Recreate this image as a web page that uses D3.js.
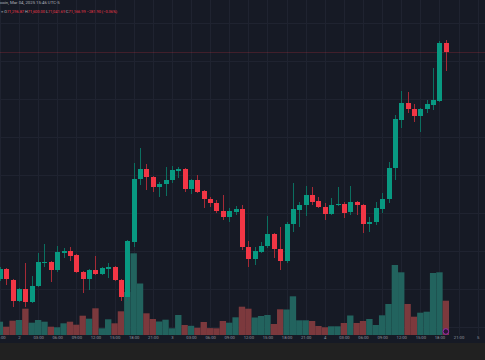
<!DOCTYPE html>
<html>
<head>
<meta charset="utf-8">
<script src="https://cdn.jsdelivr.net/npm/d3@7"></script>
<style>
  html, body { margin: 0; padding: 0; background: #212121; }
  svg { display: block; font-family: Roboto, "Noto Sans", sans-serif; }
</style>
</head>
<body>
<div id="chart"></div>
<script>
// Hourly candles, first one is Mar 1 21:00 (UTC)
const firstCandle = Date.UTC(2025, 2, 1, 21)

const opens = [
  67815, 67965, 67800, 67485, 67665, 67470, 67710, 68055, 68070, 67950,
  68205, 68235, 68175, 67920, 67815, 67950, 67890, 67965, 67995, 67800,
  67545, 68370, 69315, 69465, 69345, 69195, 69240, 69300, 69435, 69465,
  69165, 69300, 69135, 69015, 68955, 68835, 68745, 68820, 68865, 68295,
  68115, 68220, 68310, 68490, 68265, 68085, 68640, 68850, 68925, 69075,
  68985, 68895, 68790, 68925, 68940, 68820, 68970, 68925, 68640, 68670,
  68865, 69015, 69480, 70200, 70455, 70365, 70260, 70365, 70425, 70485,
  71355
]
const highs = [
  67995, 67980, 67815, 67680, 68055, 67860, 68205, 68340, 68085, 68310,
  68280, 68295, 68190, 67935, 67965, 68160, 67995, 68055, 68010, 67815,
  68400, 69555, 69780, 69540, 69360, 69270, 69495, 69510, 69495, 69480,
  69315, 69375, 69150, 69045, 69000, 69075, 68880, 68910, 68925, 68385,
  68295, 68370, 68760, 68505, 68595, 68670, 69255, 68970, 69210, 69195,
  69045, 68955, 69030, 69195, 68970, 69210, 68985, 68940, 68745, 68970,
  69105, 69570, 70275, 70635, 70620, 70440, 70380, 70500, 70980, 71385,
  71400
]
const lows = [
  67785, 67725, 67395, 67470, 67395, 67455, 67695, 67995, 67770, 67920,
  68130, 68085, 67905, 67605, 67650, 67875, 67875, 67830, 67785, 67485,
  67485, 68295, 69225, 69150, 69120, 69045, 69060, 69255, 69330, 69120,
  69090, 69105, 68880, 68895, 68805, 68700, 68670, 68775, 68250, 67995,
  68025, 68205, 68280, 68130, 67950, 68055, 68520, 68595, 68760, 68925,
  68880, 68700, 68775, 68910, 68730, 68775, 68775, 68505, 68520, 68625,
  68805, 68955, 69300, 70080, 70305, 70170, 70020, 70305, 70350, 70470,
  70935
]
const closes = [
  67965, 67815, 67485, 67665, 67470, 67710, 68070, 68070, 67950, 68220,
  68235, 68160, 67920, 67815, 67950, 67890, 67980, 67995, 67800, 67545,
  68385, 69315, 69465, 69345, 69195, 69240, 69300, 69450, 69465, 69165,
  69300, 69120, 69015, 68955, 68835, 68745, 68835, 68865, 68295, 68115,
  68235, 68310, 68490, 68265, 68085, 68640, 68865, 68925, 69075, 68970,
  68895, 68790, 68925, 68940, 68805, 68970, 68925, 68640, 68670, 68880,
  69015, 69480, 70215, 70455, 70365, 70260, 70365, 70440, 70500, 71355,
  71220
]
const volumes = [
  133, 83, 143, 150, 263, 123, 150, 133, 83, 77,
  117, 133, 103, 193, 163, 267, 67, 157, 117, 237,
  430, 817, 515, 217, 160, 135, 153, 67, 200, 100,
  92, 72, 130, 69, 67, 140, 123, 177, 283, 263,
  175, 190, 200, 110, 257, 255, 387, 147, 147, 140,
  90, 77, 87, 87, 120, 195, 120, 140, 160, 100,
  197, 310, 700, 627, 310, 183, 223, 233, 620, 627,
  343
]

const titleText = 'coin, Mar 04, 2025 15:46 UTC-5'
const legendItems = [
  ['O', '71,296.87'], ['H', '71,600.00'], ['L', '71,041.69'], ['C', '71,166.99'], ['', '\u2212281.90 (\u22120.36%)']
]

// Layout
const width = 485
const height = 360
const paneBottom = 335
const axisBottom = 343
const upColor = '#089981'
const downColor = '#f23645'
const upWick = '#0b6f60'
const downWick = '#a62a36'
const upVol = '#22635e'
const downVol = '#7c393d'
const bg = '#161a25'
const gridColor = '#1f2330'

const candles = opens.map((o, i) => ({
  time: new Date(firstCandle + i * 3600e3),
  open: o, high: highs[i], low: lows[i], close: closes[i], volume: volumes[i],
  up: closes[i] >= o
}))

// Scales
const x = d3.scaleUtc()
  .domain([new Date(Date.UTC(2025, 2, 1, 21)), new Date(Date.UTC(2025, 2, 5, 3))])
  .range([-0.1, 496.8])
const step = x(new Date(firstCandle + 3600e3)) - x(new Date(firstCandle))
const bodyW = 5

const y = d3.scaleLinear().domain([72000, 66600]).range([0, 360])
const v = d3.scaleLinear().domain([0, 1000]).range([paneBottom, paneBottom - 100])

const svg = d3.select('#chart').append('svg')
  .attr('width', width).attr('height', height)

svg.append('rect').attr('width', width).attr('height', height).attr('fill', '#212121')
svg.append('rect').attr('width', width).attr('height', axisBottom).attr('fill', bg)

// Grid
const timeTicks = x.ticks(d3.utcHour.every(3))
  .filter(d => d <= new Date(Date.UTC(2025, 2, 5, 0)))
svg.append('g').selectAll('line')
  .data(timeTicks)
  .enter().append('line')
    .attr('x1', d => Math.round(x(d)) + 0.5).attr('x2', d => Math.round(x(d)) + 0.5)
    .attr('y1', 0).attr('y2', paneBottom)
    .attr('stroke', gridColor).attr('stroke-width', 1)

const gridPrices = d3.range(67095, 72000, 570)
svg.append('g').selectAll('line')
  .data(gridPrices)
  .enter().append('line')
    .attr('x1', 0).attr('x2', width)
    .attr('y1', d => Math.round(y(d)) + 0.5).attr('y2', d => Math.round(y(d)) + 0.5)
    .attr('stroke', gridColor).attr('stroke-width', 1)

// Volume
svg.append('g').selectAll('rect')
  .data(candles)
  .enter().append('rect')
    .attr('x', d => x(d.time) - step / 2)
    .attr('width', step)
    .attr('y', d => v(d.volume))
    .attr('height', d => paneBottom - v(d.volume))
    .attr('fill', d => d.up ? upVol : downVol)

// Last price line
const last = candles[candles.length - 1]
svg.append('line')
  .attr('x1', 0).attr('x2', width)
  .attr('y1', Math.round(y(last.close)) + 0.5).attr('y2', Math.round(y(last.close)) + 0.5)
  .attr('stroke', last.up ? upColor : downColor)
  .attr('stroke-opacity', 0.2)

// Candles
const candleG = svg.append('g').selectAll('g')
  .data(candles)
  .enter().append('g')

candleG.append('line')
  .attr('x1', d => Math.round(x(d.time)) + 0.5)
  .attr('x2', d => Math.round(x(d.time)) + 0.5)
  .attr('y1', d => y(d.high))
  .attr('y2', d => y(d.low))
  .attr('stroke', d => d.up ? upWick : downWick)
  .attr('stroke-width', 1)

candleG.append('rect')
  .attr('x', d => Math.round(x(d.time)) + 0.5 - bodyW / 2)
  .attr('width', bodyW)
  .attr('y', d => y(Math.max(d.open, d.close)))
  .attr('height', d => Math.max(1, Math.abs(y(d.open) - y(d.close))))
  .attr('fill', d => d.up ? upColor : downColor)

// Event marker near the last bar
svg.append('circle')
  .attr('cx', x(last.time)).attr('cy', paneBottom - 3.5).attr('r', 2.8)
  .attr('fill', '#2a1633').attr('stroke', '#9c27b0').attr('stroke-width', 1)

// Time axis
const axis = d3.axisBottom(x)
  .tickValues(timeTicks)
  .tickSize(0)
  .tickPadding(1.5)
  .tickFormat(d => d.getUTCHours() === 0 ? String(d.getUTCDate()) : d3.utcFormat('%H:%M')(d))

const axisG = svg.append('g')
  .attr('transform', 'translate(0,' + paneBottom + ')')
  .call(axis)
axisG.select('.domain').remove()
axisG.selectAll('text')
  .attr('fill', '#9598a1')
  .attr('font-size', 4.2)
  .attr('font-family', 'Roboto, "Noto Sans", sans-serif')

// Header
svg.append('text')
  .attr('x', 0).attr('y', 3.6)
  .attr('font-size', 4.3)
  .attr('fill', '#b2b5be')
  .text(titleText)

const legend = svg.append('text')
  .attr('x', 1).attr('y', 13)
  .attr('font-size', 3.9)
legend.append('tspan').attr('fill', '#b2b5be').text('\u2261 ')
legendItems.forEach(([k, val]) => {
  if (k) legend.append('tspan').attr('fill', '#b2b5be').text(k)
  legend.append('tspan').attr('fill', downColor).text(val + ' ')
})
</script>
</body>
</html>
